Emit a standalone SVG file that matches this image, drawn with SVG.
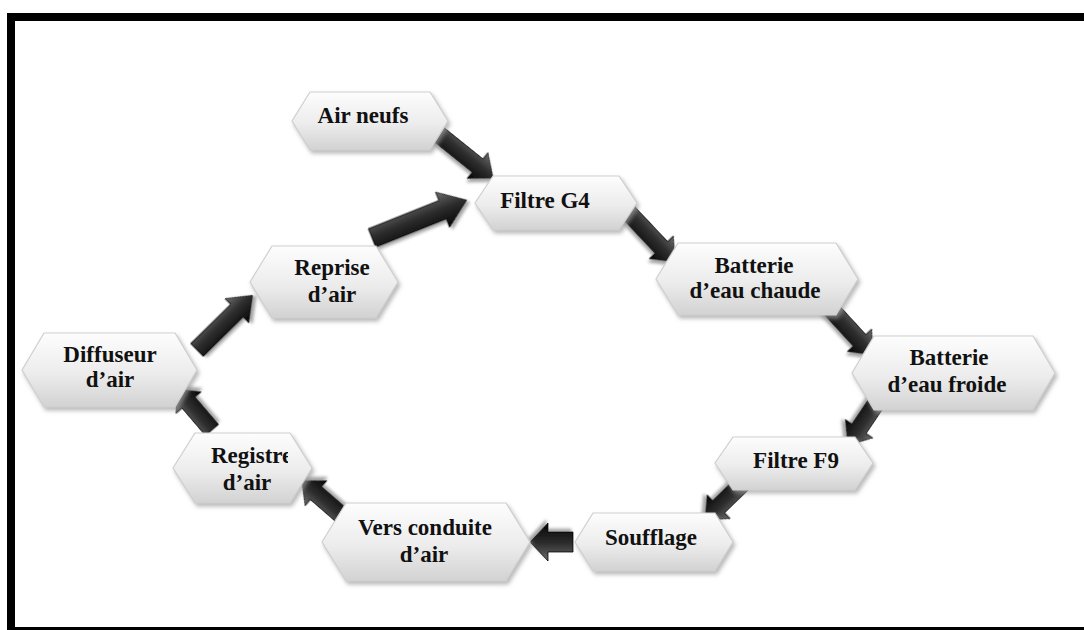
<svg xmlns="http://www.w3.org/2000/svg" width="1084" height="630" viewBox="0 0 1084 630">
<defs>
<style>
.hex{fill:url(#hexg);stroke:#cfcfcf;stroke-width:1.2;filter:url(#sh)}
.arr{fill:url(#arrg);stroke:#000;stroke-width:0.8;filter:url(#sh2)}
.t{font-family:"Liberation Serif","Times New Roman",serif;font-weight:bold;font-size:23px;fill:#111;text-anchor:middle}
</style>
<linearGradient id="hexg" x1="0" y1="0" x2="0" y2="1">
<stop offset="0" stop-color="#fdfdfd"/>
<stop offset="0.55" stop-color="#ececec"/>
<stop offset="1" stop-color="#d2d2d2"/>
</linearGradient>
<linearGradient id="arrg" x1="0" y1="0" x2="0" y2="1">
<stop offset="0" stop-color="#6e6e6e"/>
<stop offset="0.45" stop-color="#2e2e2e"/>
<stop offset="1" stop-color="#050505"/>
</linearGradient>
<filter id="sh" x="-10%" y="-20%" width="125%" height="150%">
<feDropShadow dx="2" dy="3" stdDeviation="2" flood-color="#9a9a9a" flood-opacity="0.7"/>
</filter>
<filter id="sh2" x="-20%" y="-40%" width="140%" height="180%">
<feDropShadow dx="2" dy="3" stdDeviation="1.8" flood-color="#808080" flood-opacity="0.7"/>
</filter>
<clipPath id="regclip"><rect x="150" y="440" width="138" height="40"/></clipPath>
</defs>
<rect x="0" y="0" width="1084" height="630" fill="#fff"/>
<rect x="11" y="17" width="1100" height="614" fill="none" stroke="#000" stroke-width="8"/>

<g id="connectors">
<g transform="translate(437,133) rotate(38.8)"><path class="arr" d="M0,-8.5 L52,-8.5 L52,-16.5 L72,0 L52,16.5 L52,8.5 L0,8.5 Z"/></g>
<g transform="translate(372,238) rotate(-21.8)"><path class="arr" d="M0,-10 L76,-10 L76,-19 L102,0 L76,19 L76,10 L0,10 Z"/></g>
<g transform="translate(627,211) rotate(46.7)"><path class="arr" d="M0,-8.5 L50,-8.5 L50,-16.5 L70,0 L50,16.5 L50,8.5 L0,8.5 Z"/></g>
<g transform="translate(827,305) rotate(47.4)"><path class="arr" d="M0,-8.5 L48,-8.5 L48,-16.5 L68,0 L48,16.5 L48,8.5 L0,8.5 Z"/></g>
<g transform="translate(883,393) rotate(123.9)"><path class="arr" d="M0,-8.5 L43,-8.5 L43,-16.5 L63,0 L43,16.5 L43,8.5 L0,8.5 Z"/></g>
<g transform="translate(743,483) rotate(135.8)"><path class="arr" d="M0,-8.5 L34,-8.5 L34,-16.5 L53,0 L34,16.5 L34,8.5 L0,8.5 Z"/></g>
<g transform="translate(573,542) rotate(180)"><path class="arr" d="M0,-10 L25,-10 L25,-19 L43,0 L25,19 L25,10 L0,10 Z"/></g>
<g transform="translate(347,520) rotate(-139.1)"><path class="arr" d="M0,-8.5 L41,-8.5 L41,-16.5 L60,0 L41,16.5 L41,8.5 L0,8.5 Z"/></g>
<g transform="translate(212,430) rotate(-130.5)"><path class="arr" d="M0,-8.5 L36,-8.5 L36,-16.5 L54,0 L36,16.5 L36,8.5 L0,8.5 Z"/></g>
<g transform="translate(197,350) rotate(-44.5)"><path class="arr" d="M0,-9 L56,-9 L56,-17 L78,0 L56,17 L56,9 L0,9 Z"/></g>
</g>

<g id="n-air-neufs">
<path class="hex" d="M292,121 L310,92 L430,92 L448,121 L430,150 L310,150 Z"/>
<text class="t" x="363" y="123">Air neufs</text>
</g>
<g id="n-filtre-g4">
<path class="hex" d="M475,203 L493,176 L619,176 L637,203 L619,230 L493,230 Z"/>
<text class="t" x="545" y="208">Filtre G4</text>
</g>
<g id="n-batterie-chaude">
<path class="hex" d="M656,279 L678,243 L836,243 L858,279 L836,315 L678,315 Z"/>
<text class="t" x="754" y="273">Batterie</text>
<text class="t" x="755" y="298">d’eau chaude</text>
</g>
<g id="n-batterie-froide">
<path class="hex" d="M852,373 L874,336 L1033,336 L1055,373 L1033,410 L874,410 Z"/>
<text class="t" x="949" y="365">Batterie</text>
<text class="t" x="947" y="392">d’eau froide</text>
</g>
<g id="n-filtre-f9">
<path class="hex" d="M715,463 L733,437 L855,437 L873,463 L855,490 L733,490 Z"/>
<text class="t" x="796" y="468">Filtre F9</text>
</g>
<g id="n-soufflage">
<path class="hex" d="M575,542 L593,513 L715,513 L733,542 L715,571 L593,571 Z"/>
<text class="t" x="651" y="545">Soufflage</text>
</g>
<g id="n-vers-conduite">
<path class="hex" d="M322,542 L346,503 L506,503 L530,542 L506,581 L346,581 Z"/>
<text class="t" x="425" y="535">Vers conduite</text>
<text class="t" x="424" y="562">d’air</text>
</g>
<g id="n-registre">
<path class="hex" d="M173,468 L195,433 L290,433 L312,468 L290,503 L195,503 Z"/>
<text class="t" x="211" y="463" style="text-anchor:start" clip-path="url(#regclip)">Registre</text>
<text class="t" x="247" y="490">d’air</text>
</g>
<g id="n-diffuseur">
<path class="hex" d="M22,370 L44,333 L175,333 L197,370 L175,407 L44,407 Z"/>
<text class="t" x="110" y="362">Diffuseur</text>
<text class="t" x="110" y="387">d’air</text>
</g>
<g id="n-reprise">
<path class="hex" d="M250,282 L272,246 L376,246 L398,282 L376,318 L272,318 Z"/>
<text class="t" x="332" y="275">Reprise</text>
<text class="t" x="332" y="302">d’air</text>
</g>
</svg>
